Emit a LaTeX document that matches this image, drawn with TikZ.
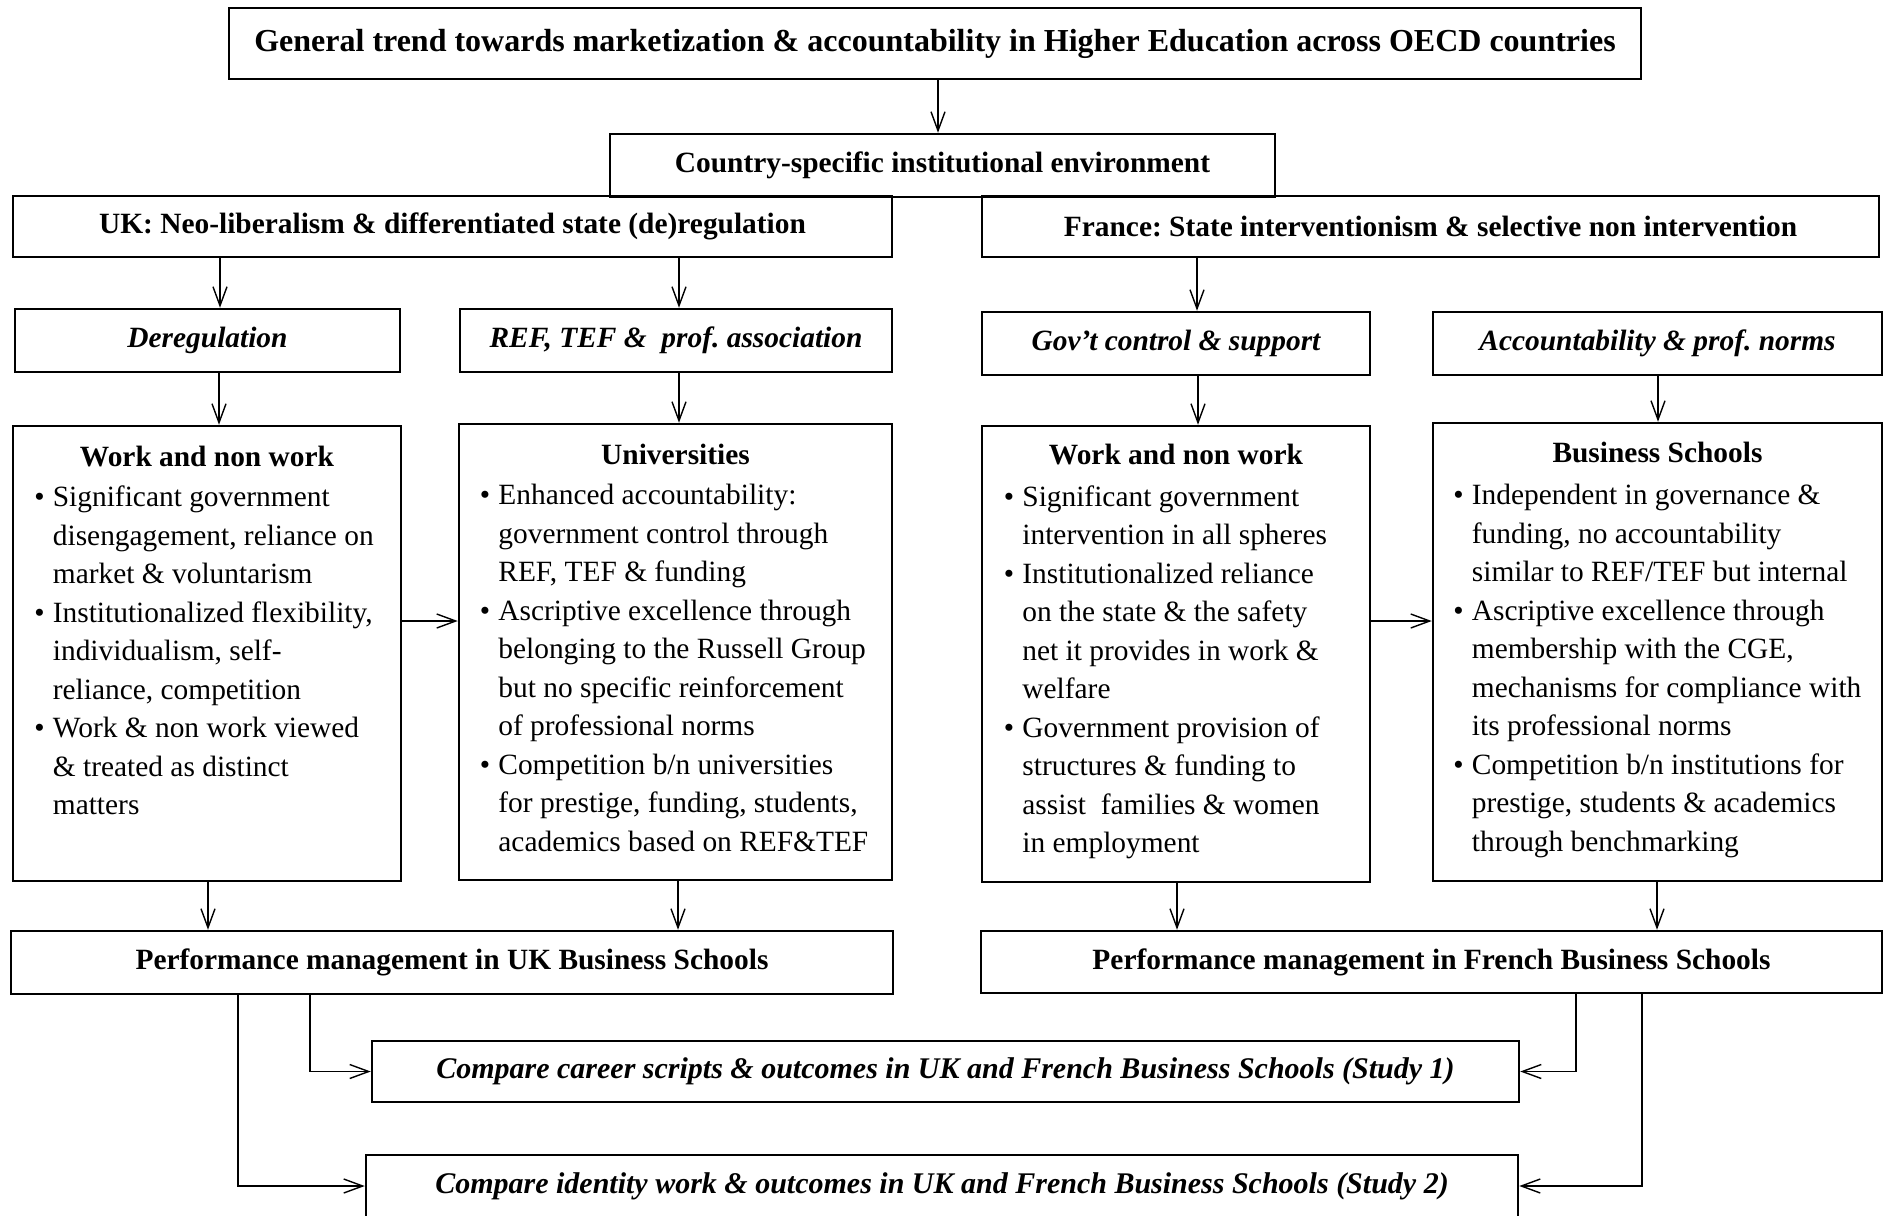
\documentclass[tikz,border=0pt]{standalone}
\usepackage{fontspec}
\setmainfont{Liberation Serif}
\usetikzlibrary{arrows.meta}
\frenchspacing
\newcommand\myftop{\fontsize{16}{19}\selectfont\bfseries}
\newcommand\myfhead{\fontsize{14.7}{18}\selectfont\bfseries}
\newcommand\myfital{\fontsize{14.7}{18}\selectfont\bfseries\itshape}
\newcommand\myfstudy{\fontsize{15}{18}\selectfont\bfseries\itshape}
\newcommand\myfbody{\fontsize{14.7}{19.25}\selectfont}
\newcommand\mybul{\makebox[9.25pt][l]{\textbullet}}
\newcommand\myind{\hspace*{9.25pt}}
\begin{document}
\begin{tikzpicture}[x=0.5pt,y=-0.5pt,
  bx/.style 2 args={draw, line width=1.25pt, inner sep=0pt, rectangle, minimum width=#1, minimum height=#2},
  arr/.style={-{Straight Barb[length=9.5pt,width=7pt]}, line width=0.7pt},
  lst/.style={anchor=base west, inner sep=0pt, font=\myfbody},
  ttl/.style={anchor=base, inner sep=0pt, font=\myfhead}
]
\clip (0,0) rectangle (1889,1215);
\fill[white] (0,0) rectangle (1889,1215);

\node[bx={706pt}{35.5pt}, font=\myftop] (top) at (935,43.5) {General trend towards marketization \& accountability in Higher Education across OECD countries};
\node[bx={332.5pt}{31.5pt}, font=\myfhead] (cse) at (942.5,165.5) {Country-specific institutional environment};
\node[bx={439.5pt}{30.5pt}, font=\myfhead] (uk) at (452.5,226.5) {UK: Neo-liberalism \& differentiated state (de)regulation};
\node[bx={448.5pt}{30.5pt}, font=\myfhead] (fr) at (1430.5,226.5) {France: State interventionism \& selective non intervention};

\node[bx={192.5pt}{31.5pt}, font=\myfital] (dereg) at (207.5,340.5) {Deregulation};
\node[bx={216pt}{31.5pt}, font=\myfital] (ref) at (676,340.5) {REF, TEF \&\ \ prof. association};
\node[bx={194pt}{31.5pt}, font=\myfital] (gov) at (1176,343.5) {Gov’t control \& support};
\node[bx={224.5pt}{31.5pt}, font=\myfital] (acc) at (1657.5,343.5) {Accountability \& prof. norms};

\node[bx={194pt}{227.5pt}] (ukw) at (207,653.5) {};
\node[bx={216.5pt}{228pt}] (univ) at (675.5,652) {};
\node[bx={194pt}{228pt}] (frw) at (1176,654) {};
\node[bx={224.5pt}{229pt}] (bs) at (1657.5,652) {};

\node[ttl] (ukwt) at (207,466) {Work and non work};
\node[ttl] (univt) at (675.5,464) {Universities};
\node[ttl] (frwt) at (1176,464.5) {Work and non work};
\node[ttl] (bst) at (1657.5,462.5) {Business Schools};

\node[lst] (ukwl) at (34,506.5) {\begin{tabular}[t]{@{}l@{}}
\mybul Significant government\\
\myind disengagement, reliance on\\
\myind market \& voluntarism\\
\mybul Institutionalized flexibility,\\
\myind individualism, self-\\
\myind reliance, competition\\
\mybul Work \& non work viewed\\
\myind \& treated as distinct\\
\myind matters
\end{tabular}};

\node[lst] (univl) at (479.5,504.5) {\begin{tabular}[t]{@{}l@{}}
\mybul Enhanced accountability:\\
\myind government control through\\
\myind REF, TEF \& funding\\
\mybul Ascriptive excellence through\\
\myind belonging to the Russell Group\\
\myind but no specific reinforcement\\
\myind of professional norms\\
\mybul Competition b/n universities\\
\myind for prestige, funding, students,\\
\myind academics based on REF\&TEF
\end{tabular}};

\node[lst] (frwl) at (1003.5,506) {\begin{tabular}[t]{@{}l@{}}
\mybul Significant government\\
\myind intervention in all spheres\\
\mybul Institutionalized reliance\\
\myind on the state \& the safety\\
\myind net it provides in work \&\\
\myind welfare\\
\mybul Government provision of\\
\myind structures \& funding to\\
\myind assist\ \ families \& women\\
\myind in employment
\end{tabular}};

\node[lst] (bsl) at (1453,504.5) {\begin{tabular}[t]{@{}l@{}}
\mybul Independent in governance \&\\
\myind funding, no accountability\\
\myind similar to REF/TEF but internal\\
\mybul Ascriptive excellence through\\
\myind membership with the CGE,\\
\myind mechanisms for compliance with\\
\myind its professional norms\\
\mybul Competition b/n institutions for\\
\myind prestige, students \& academics\\
\myind through benchmarking
\end{tabular}};

\node[bx={441pt}{31.5pt}, font=\myfhead] (ukpm) at (452,962.5) {Performance management in UK Business Schools};
\node[bx={450.5pt}{31pt}, font=\myfhead] (frpm) at (1431.5,962) {Performance management in French Business Schools};
\node[bx={573.5pt}{30.5pt}, font=\myfstudy] (s1) at (945.5,1071.5) {Compare career scripts \& outcomes in UK and French Business Schools (Study 1)};
\node[bx={576pt}{31pt}, font=\myfstudy] (s2) at (942,1186) {Compare identity work \& outcomes in UK and French Business Schools (Study 2)};

\draw[arr] (top.south -| 938,0) -- (cse.north -| 938,0);
\draw[arr] (uk.south -| 220,0) -- (dereg.north -| 220,0);
\draw[arr] (uk.south -| 679,0) -- (ref.north -| 679,0);
\draw[arr] (fr.south -| 1197,0) -- (gov.north -| 1197,0);
\draw[arr] (dereg.south -| 219,0) -- (ukw.north -| 219,0);
\draw[arr] (ref.south -| 679,0) -- (univ.north -| 679,0);
\draw[arr] (gov.south -| 1198,0) -- (frw.north -| 1198,0);
\draw[arr] (acc.south -| 1658,0) -- (bs.north -| 1658,0);
\draw[arr] (ukw.east |- 0,621) -- (univ.west |- 0,621);
\draw[arr] (frw.east |- 0,621) -- (bs.west |- 0,621);
\draw[arr] (ukw.south -| 208,0) -- (ukpm.north -| 208,0);
\draw[arr] (univ.south -| 678,0) -- (ukpm.north -| 678,0);
\draw[arr] (frw.south -| 1177,0) -- (frpm.north -| 1177,0);
\draw[arr] (bs.south -| 1657,0) -- (frpm.north -| 1657,0);
\draw[arr] (ukpm.south -| 310,0) |- (s1.west);
\draw[arr] (ukpm.south -| 238,0) |- (s2.west);
\draw[arr] (frpm.south -| 1576,0) |- (s1.east);
\draw[arr] (frpm.south -| 1642,0) |- (s2.east);
\end{tikzpicture}
\end{document}
